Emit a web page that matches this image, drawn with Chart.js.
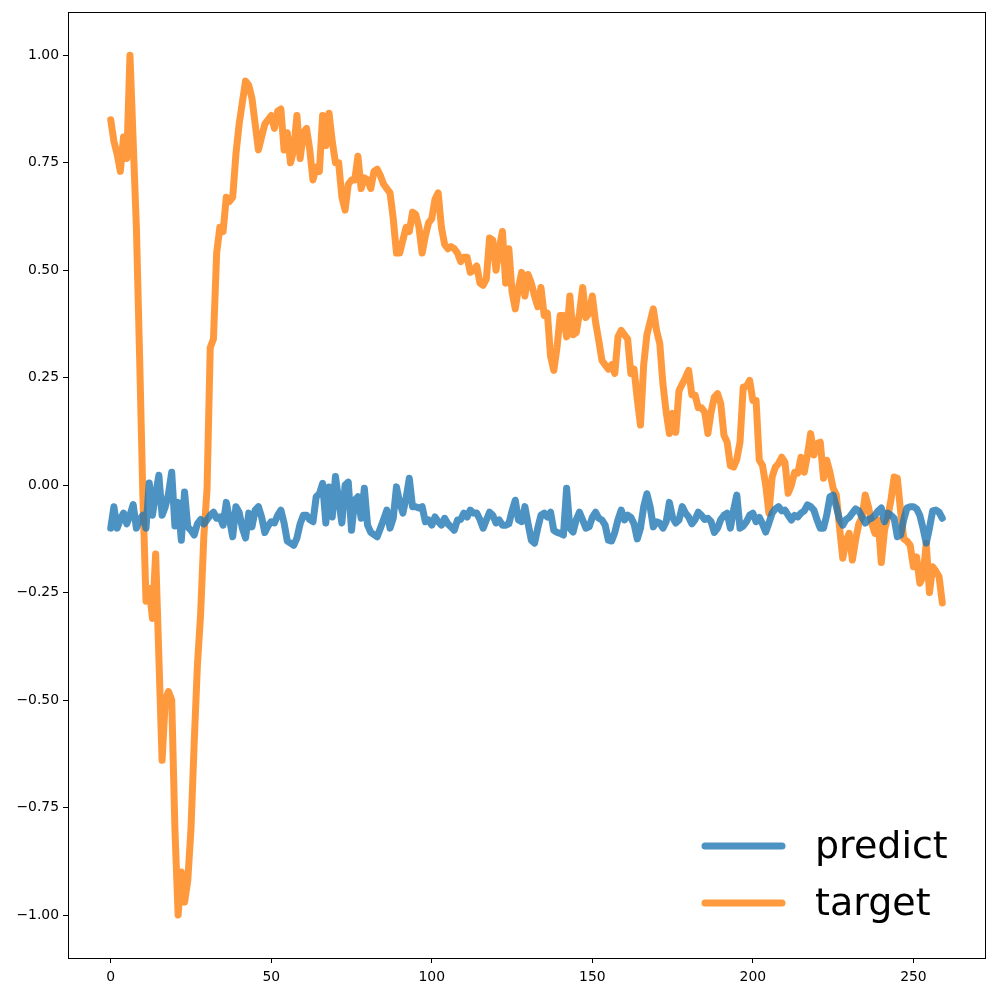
<!DOCTYPE html>
<html>
<head>
<meta charset="utf-8">
<title>predict vs target</title>
<script src="https://cdn.jsdelivr.net/npm/chart.js@4"></script>
<style>
  html, body { margin: 0; padding: 0; background: #fff; }
  canvas { display: block; }
</style>
</head>
<body>
<canvas id="chart" width="996" height="996"></canvas>
<script>
// values, one per time step (0..259)
const predict = [
  -0.100, -0.050, -0.100, -0.080, -0.065, -0.090, -0.070, -0.045, -0.100, -0.080,
  -0.070, -0.100,  0.005, -0.070, -0.020,  0.023, -0.070, -0.050, -0.020,  0.030,
  -0.095, -0.040, -0.128, -0.016, -0.097, -0.105, -0.116, -0.090, -0.080, -0.090,
  -0.080, -0.070, -0.063, -0.077, -0.074, -0.093, -0.040, -0.080, -0.120, -0.050,
  -0.063, -0.100, -0.123, -0.065, -0.097, -0.058, -0.050, -0.074, -0.110, -0.095,
  -0.085, -0.088, -0.070, -0.058, -0.088, -0.130, -0.135, -0.140, -0.123, -0.090,
  -0.070, -0.070, -0.080, -0.085, -0.027, -0.020,  0.004, -0.088, -0.004, -0.074,
   0.020, -0.035, -0.088,  0.000,  0.007, -0.105, -0.035, -0.027, -0.077, -0.007,
  -0.093, -0.110, -0.115, -0.120, -0.100, -0.080, -0.058, -0.100, -0.077, -0.004,
  -0.040, -0.065, -0.030,  0.016, -0.050, -0.050, -0.053, -0.050, -0.085, -0.081,
  -0.093, -0.074, -0.085, -0.093, -0.077, -0.090, -0.097, -0.105, -0.081, -0.080,
  -0.065, -0.074, -0.058, -0.065, -0.065, -0.080, -0.100, -0.081, -0.063, -0.070,
  -0.088, -0.081, -0.093, -0.093, -0.090, -0.060, -0.035, -0.081, -0.085, -0.050,
  -0.090, -0.128, -0.135, -0.100, -0.070, -0.065, -0.074, -0.063, -0.105, -0.110,
  -0.112, -0.116, -0.007, -0.100, -0.109, -0.080, -0.063, -0.081, -0.100, -0.097,
  -0.075, -0.063, -0.077, -0.081, -0.093, -0.128, -0.130, -0.110, -0.080, -0.058,
  -0.081, -0.070, -0.075, -0.090, -0.125, -0.100, -0.050, -0.020, -0.050, -0.097,
  -0.085, -0.088, -0.100, -0.085, -0.040, -0.075, -0.088, -0.081, -0.050, -0.065,
  -0.074, -0.090, -0.080, -0.063, -0.070, -0.080, -0.077, -0.085, -0.110, -0.100,
  -0.080, -0.070, -0.065, -0.100, -0.058, -0.023, -0.100, -0.095, -0.085, -0.070,
  -0.065, -0.085, -0.075, -0.090, -0.109, -0.088, -0.065, -0.055, -0.050, -0.060,
  -0.058, -0.070, -0.081, -0.070, -0.074, -0.065, -0.060, -0.046, -0.050, -0.058,
  -0.081, -0.100, -0.100, -0.070, -0.027, -0.023, -0.050, -0.080, -0.093, -0.080,
  -0.075, -0.065, -0.055, -0.060, -0.074, -0.088, -0.080, -0.077, -0.070, -0.060,
  -0.053, -0.085, -0.065, -0.070, -0.077, -0.120, -0.116, -0.080, -0.053, -0.050,
  -0.050, -0.055, -0.070, -0.100, -0.135, -0.100, -0.060, -0.058, -0.063, -0.077
];

const target = [
   0.850,  0.800,  0.770,  0.730,  0.810,  0.760,  1.000,  0.800,  0.600,  0.300,
  -0.020, -0.270, -0.240, -0.310, -0.160, -0.400, -0.640, -0.500, -0.480, -0.500,
  -0.800, -1.000, -0.900, -0.970, -0.920, -0.800, -0.600, -0.420, -0.300, -0.120,
  -0.010,  0.320,  0.340,  0.540,  0.600,  0.590,  0.670,  0.660,  0.670,  0.770,
   0.840,  0.890,  0.940,  0.930,  0.900,  0.840,  0.780,  0.810,  0.840,  0.850,
   0.860,  0.830,  0.870,  0.875,  0.780,  0.820,  0.750,  0.780,  0.860,  0.760,
   0.820,  0.830,  0.780,  0.710,  0.740,  0.730,  0.860,  0.790,  0.865,  0.800,
   0.750,  0.750,  0.670,  0.640,  0.700,  0.710,  0.710,  0.765,  0.690,  0.715,
   0.710,  0.690,  0.730,  0.735,  0.720,  0.700,  0.690,  0.680,  0.620,  0.540,
   0.540,  0.570,  0.600,  0.590,  0.635,  0.630,  0.600,  0.540,  0.580,  0.610,
   0.620,  0.665,  0.680,  0.600,  0.560,  0.550,  0.555,  0.550,  0.540,  0.520,
   0.530,  0.530,  0.495,  0.500,  0.510,  0.470,  0.465,  0.480,  0.575,  0.570,
   0.500,  0.550,  0.590,  0.470,  0.550,  0.450,  0.410,  0.460,  0.495,  0.440,
   0.490,  0.470,  0.440,  0.415,  0.460,  0.395,  0.400,  0.300,  0.267,  0.320,
   0.395,  0.395,  0.345,  0.440,  0.350,  0.355,  0.400,  0.460,  0.390,  0.400,
   0.440,  0.380,  0.337,  0.290,  0.280,  0.270,  0.280,  0.260,  0.345,  0.360,
   0.350,  0.340,  0.260,  0.270,  0.200,  0.140,  0.280,  0.350,  0.380,  0.410,
   0.360,  0.330,  0.235,  0.170,  0.120,  0.167,  0.123,  0.220,  0.235,  0.250,
   0.267,  0.210,  0.210,  0.180,  0.180,  0.170,  0.120,  0.170,  0.205,  0.213,
   0.190,  0.116,  0.100,  0.045,  0.042,  0.060,  0.100,  0.228,  0.230,  0.244,
   0.197,  0.197,  0.058,  0.046,  0.000, -0.065,  0.019,  0.042,  0.050,  0.065,
   0.053, -0.019,  0.000,  0.030,  0.028,  0.065,  0.030,  0.070,  0.120,  0.070,
   0.097,  0.100,  0.016,  0.058,  0.030, -0.007, -0.023, -0.098, -0.170, -0.130,
  -0.112, -0.174, -0.128, -0.090, -0.074, -0.023, -0.050, -0.088, -0.112, -0.081,
  -0.180, -0.105, -0.074, -0.035,  0.019,  0.016, -0.060, -0.125, -0.130, -0.140,
  -0.190, -0.167, -0.228, -0.213, -0.135, -0.250, -0.190, -0.200, -0.213, -0.274
];

const seriesNames = ['predict', 'target'];
const xTicks = [0, 50, 100, 150, 200, 250];
const yTicks = [-1.00, -0.75, -0.50, -0.25, 0.00, 0.25, 0.50, 0.75, 1.00];

const steps = predict.map((_, i) => i);
const toPoints = arr => arr.map((v, i) => ({ x: steps[i], y: v }));

const tickFont = { family: 'DejaVu Sans', size: 13.9 };
const fmtY = v => (v < 0 ? '\u2212' : '') + Math.abs(v).toFixed(2);

// frame on all four sides, like matplotlib axes
const framePlugin = {
  id: 'frame',
  afterDraw(chart) {
    const { ctx, chartArea: a } = chart;
    ctx.save();
    ctx.strokeStyle = '#000';
    ctx.lineWidth = 1;
    ctx.strokeRect(Math.round(a.left) + 0.5, Math.round(a.top) + 0.5,
                   Math.round(a.right - a.left), Math.round(a.bottom - a.top));
    ctx.restore();
  }
};

// legend in the lower right corner, no box
const legendPlugin = {
  id: 'cornerLegend',
  afterDraw(chart) {
    const { ctx } = chart;
    ctx.save();
    ctx.lineCap = 'round';
    ctx.lineWidth = 7;
    ctx.font = '38px "DejaVu Sans"';
    ctx.textBaseline = 'middle';
    ctx.fillStyle = '#000';
    chart.data.datasets.forEach((ds, i) => {
      const y = 846 + i * 57;
      ctx.strokeStyle = ds.borderColor;
      ctx.beginPath();
      ctx.moveTo(705, y);
      ctx.lineTo(782, y);
      ctx.stroke();
      ctx.fillText(ds.label, 815, y + 2);
    });
    ctx.restore();
  }
};

const ctx = document.getElementById('chart').getContext('2d');
new Chart(ctx, {
  type: 'line',
  data: {
    datasets: [
      {
        label: seriesNames[0],
        data: toPoints(predict),
        borderColor: 'rgba(31, 119, 180, 0.8)',
        borderWidth: 7,
        pointRadius: 0,
        tension: 0,
        borderCapStyle: 'round',
        borderJoinStyle: 'round'
      },
      {
        label: seriesNames[1],
        data: toPoints(target),
        borderColor: 'rgba(255, 127, 14, 0.8)',
        borderWidth: 7,
        pointRadius: 0,
        tension: 0,
        borderCapStyle: 'round',
        borderJoinStyle: 'round'
      }
    ]
  },
  options: {
    responsive: false,
    animation: false,
    layout: { padding: { left: 0, right: 11, top: 12, bottom: 0 } },
    scales: {
      x: {
        type: 'linear',
        min: -13.3,
        max: 272.3,
        afterBuildTicks: s => { s.ticks = xTicks.map(v => ({ value: v })); },
        afterFit: s => { s.height = 38; },
        grid: { drawOnChartArea: false, drawTicks: true, tickLength: 5, color: '#000' },
        border: { display: false },
        ticks: { color: '#000', font: tickFont, padding: 6, maxRotation: 0, callback: v => String(v) }
      },
      y: {
        type: 'linear',
        min: -1.1,
        max: 1.1,
        afterBuildTicks: s => { s.ticks = yTicks.map(v => ({ value: v })); },
        afterFit: s => { s.width = 68; },
        grid: { drawOnChartArea: false, drawTicks: true, tickLength: 5, color: '#000' },
        border: { display: false },
        ticks: { color: '#000', font: tickFont, padding: 4, callback: v => fmtY(v) }
      }
    },
    plugins: {
      legend: { display: false },
      tooltip: { enabled: false }
    }
  },
  plugins: [framePlugin, legendPlugin]
});
</script>
</body>
</html>
